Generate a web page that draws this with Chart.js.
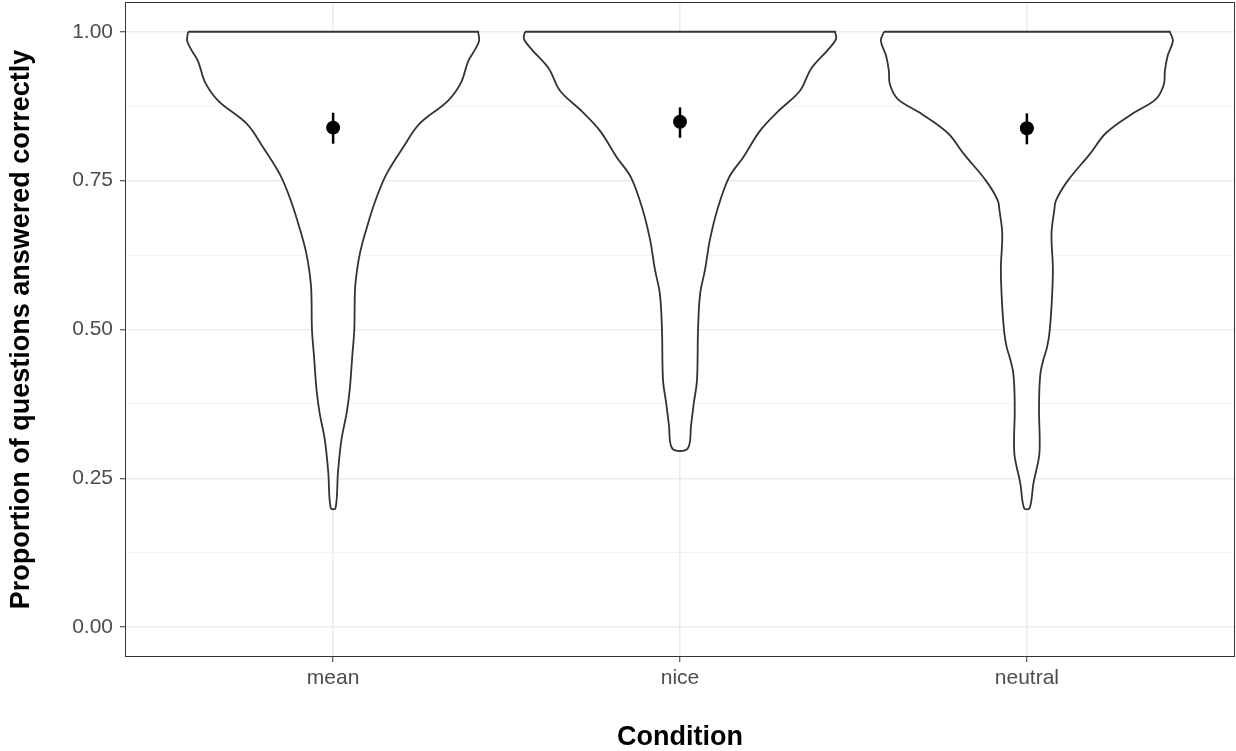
<!DOCTYPE html>
<html>
<head>
<meta charset="utf-8">
<script src="https://cdn.jsdelivr.net/npm/chart.js@4"></script>
<style>
  html, body { margin: 0; padding: 0; background: #fff; overflow: hidden; }
  .chart-wrap { width: 1236px; height: 751px; }
  canvas { display: block; }
</style>
</head>
<body>
<div class="chart-wrap"><canvas class="chart-1"></canvas></div>
<script>
const conditions = ['mean', 'nice', 'neutral'];

// violin outlines: level (proportion) and half width in category units
const meanLevels = [1.0, 0.985, 0.97, 0.95, 0.915, 0.884, 0.845, 0.806, 0.76, 0.715, 0.667, 0.63, 0.6, 0.566, 0.5, 0.454, 0.4, 0.36, 0.315, 0.26, 0.2];
const meanWidths = [0.418, 0.421, 0.409, 0.389, 0.369, 0.331, 0.248, 0.202, 0.153, 0.121, 0.095, 0.078, 0.069, 0.063, 0.061, 0.055, 0.048, 0.039, 0.024, 0.014, 0.007];

const niceLevels = [1.0, 0.988, 0.97, 0.938, 0.901, 0.866, 0.834, 0.789, 0.755, 0.7, 0.65, 0.6, 0.56, 0.5, 0.415, 0.377, 0.34, 0.3];
const niceWidths = [0.447, 0.45, 0.427, 0.378, 0.346, 0.282, 0.231, 0.182, 0.141, 0.107, 0.086, 0.072, 0.058, 0.052, 0.049, 0.04, 0.032, 0.022];

const neutralLevels = [1.0, 0.985, 0.96, 0.935, 0.912, 0.887, 0.862, 0.83, 0.795, 0.75, 0.717, 0.7, 0.661, 0.6, 0.538, 0.494, 0.47, 0.45, 0.43, 0.4, 0.36, 0.315, 0.286, 0.242, 0.2];
const neutralWidths = [0.412, 0.421, 0.406, 0.398, 0.395, 0.372, 0.303, 0.228, 0.182, 0.118, 0.084, 0.079, 0.071, 0.075, 0.071, 0.065, 0.058, 0.048, 0.04, 0.036, 0.035, 0.037, 0.035, 0.019, 0.008];

// mean and its error bar per condition
const pointMeans = [0.839, 0.849, 0.838];
const ciLower = [0.812, 0.822, 0.811];
const ciUpper = [0.864, 0.873, 0.863];

const yTicks = [0, 0.125, 0.25, 0.375, 0.5, 0.625, 0.75, 0.875, 1.0];
const xTicks = [1, 2, 3];

const canvas = document.querySelector('.chart-1');

function violinPoints(pos, levels, widths){
    const pts = [];
    for (let i = 0; i < levels.length; i++) {
        pts.push({x: pos - widths[i], y: levels[i]});
    }
    for (let i = levels.length - 1; i >= 0; i--) {
        pts.push({x: pos + widths[i], y: levels[i]});
    }
    // repeat the top corner so the flat top stays flat
    pts.push({x: pos + widths[0], y: levels[0]});
    pts.push({x: pos - widths[0], y: levels[0]});
    return pts;
}

function isMajor(v){
    return Math.abs(v * 4 - Math.round(v * 4)) < 1e-9;
}

const panelBorder = {
    id: 'panelBorder',
    afterDraw(chart){
        const a = chart.chartArea;
        const ctx = chart.ctx;
        ctx.save();
        ctx.strokeStyle = '#333333';
        ctx.lineWidth = 1;
        ctx.strokeRect(a.left + 0.5, a.top + 0.5, a.right - a.left - 1, a.bottom - a.top - 1);
        ctx.restore();
    }
};

const violins = [
    violinPoints(1, meanLevels, meanWidths),
    violinPoints(2, niceLevels, niceWidths),
    violinPoints(3, neutralLevels, neutralWidths)
];

const datasets = [];
for (let i = 0; i < violins.length; i++) {
    datasets.push({
        type: 'line',
        data: violins[i],
        borderColor: '#333333',
        borderWidth: 1.8,
        backgroundColor: '#ffffff',
        fill: 'shape',
        tension: 0.35,
        pointRadius: 0,
        order: 3
    });
}
for (let i = 0; i < conditions.length; i++) {
    datasets.push({
        type: 'line',
        data: [{x: i + 1, y: ciLower[i]}, {x: i + 1, y: ciUpper[i]}],
        borderColor: '#000000',
        borderWidth: 2.5,
        pointRadius: 0,
        fill: false,
        order: 2
    });
}
datasets.push({
    type: 'scatter',
    data: pointMeans.map((m, i) => ({x: i + 1, y: m})),
    backgroundColor: '#000000',
    borderWidth: 0,
    pointRadius: 7,
    order: 1
});

new Chart(canvas, {
    type: 'scatter',
    data: { datasets: datasets },
    plugins: [panelBorder],
    options: {
        responsive: true,
        maintainAspectRatio: false,
        animation: false,
        devicePixelRatio: 1,
        layout: { autoPadding: false, padding: { top: 2, right: 1, left: 0, bottom: 0 } },
        plugins: {
            legend: { display: false },
            tooltip: { enabled: false }
        },
        scales: {
            x: {
                type: 'linear',
                min: 0.4,
                max: 3.6,
                afterBuildTicks: scale => { scale.ticks = xTicks.map(v => ({value: v})); },
                afterFit: scale => {
                    scale.height = 94;
                    scale.paddingLeft = 0;
                    scale.paddingRight = 0;
                },
                border: { display: false },
                grid: {
                    color: '#ebebeb',
                    lineWidth: 1.5,
                    tickColor: '#333333',
                    tickWidth: 1,
                    tickLength: 5
                },
                ticks: {
                    padding: 4,
                    color: '#4d4d4d',
                    font: { family: 'Liberation Sans, Arial, sans-serif', size: 21 },
                    callback: v => conditions[Math.round(v) - 1]
                },
                title: {
                    display: true,
                    text: 'Condition',
                    color: '#000000',
                    padding: { top: 0, bottom: 0 },
                    font: { family: 'Liberation Sans, Arial, sans-serif', size: 27, weight: 'bold', lineHeight: 1 }
                }
            },
            y: {
                min: -0.05,
                max: 1.05,
                afterBuildTicks: scale => { scale.ticks = yTicks.map(v => ({value: v})); },
                afterFit: scale => {
                    scale.width = 125;
                    scale.paddingTop = 0;
                    scale.paddingBottom = 0;
                },
                border: { display: false },
                grid: {
                    color: ctx => isMajor(ctx.tick.value) ? '#ebebeb' : '#f2f2f2',
                    lineWidth: ctx => isMajor(ctx.tick.value) ? 1.5 : 1,
                    tickColor: ctx => isMajor(ctx.tick.value) ? '#333333' : 'rgba(0,0,0,0)',
                    tickWidth: 1,
                    tickLength: 5
                },
                ticks: {
                    padding: 7,
                    color: '#4d4d4d',
                    font: { family: 'Liberation Sans, Arial, sans-serif', size: 21 },
                    callback: v => isMajor(v) ? v.toFixed(2) : ''
                },
                title: {
                    display: true,
                    text: 'Proportion of questions answered correctly',
                    color: '#000000',
                    padding: { top: 8, bottom: 0 },
                    font: { family: 'Liberation Sans, Arial, sans-serif', size: 27, weight: 'bold', lineHeight: 1 }
                }
            }
        }
    }
});
</script>
</body>
</html>
